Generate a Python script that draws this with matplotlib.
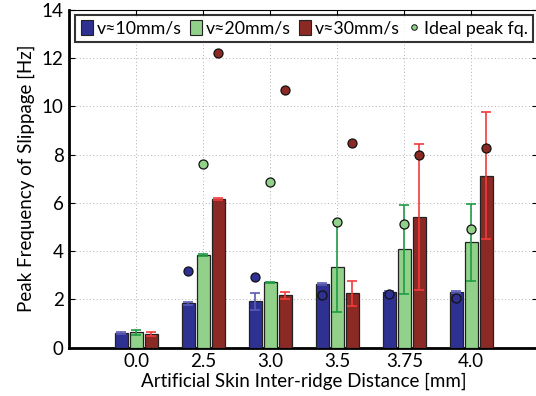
import matplotlib
matplotlib.use("Agg")
import matplotlib.pyplot as plt
import numpy as np
from matplotlib.patches import Patch
from matplotlib.lines import Line2D

plt.rcParams['font.family'] = ['Lato', 'DejaVu Sans']

categories = ["0.0", "2.5", "3.0", "3.5", "3.75", "4.0"]
series_names = ["v≈10mm/s", "v≈20mm/s", "v≈30mm/s"]
v10 = [0.60, 1.84, 1.93, 2.64, 2.29, 2.31]
v20 = [0.64, 3.83, 2.71, 3.33, 4.07, 4.36]
v30 = [0.57, 6.17, 2.17, 2.25, 5.40, 7.12]
err10 = [0.03, 0.06, 0.35, 0.04, 0.05, 0.05]
err20 = [0.11, 0.03, 0.03, 1.86, 1.84, 1.58]
err30 = [0.08, 0.04, 0.15, 0.52, 3.03, 2.63]
ideal10 = [np.nan, 3.16, 2.93, 2.18, 2.24, 2.06]
ideal20 = [np.nan, 7.62, 6.85, 5.20, 5.13, 4.92]
ideal30 = [np.nan, 12.2, 10.66, 8.48, 7.99, 8.26]

bar_colors = ["#2e3192", "#92d18a", "#8b2a24"]
err_colors = ["#5a5ab8", "#1f9a45", "#f03c3c"]

fig = plt.figure(figsize=(5.36, 3.96), dpi=100)
ax = fig.add_axes([69.3/536, (396-347.7)/396, 469/536, (347.7-9.6)/396])

x = np.arange(1, len(categories)+1)
offsets = [-0.225, 0.0, 0.225]
width = 0.19
vals = [v10, v20, v30]
errs = [err10, err20, err30]
ideals = [ideal10, ideal20, ideal30]
for i in range(3):
    ax.bar(x + offsets[i], vals[i], width=width, color=bar_colors[i],
           edgecolor="#222222", linewidth=0.9, zorder=3)
    ax.errorbar(x + offsets[i], vals[i], yerr=errs[i], fmt='none',
                ecolor=err_colors[i], elinewidth=1.2, capsize=3.5, capthick=1.2, zorder=4)
    ax.plot(x + offsets[i], ideals[i], 'o', markersize=6.5, markerfacecolor=bar_colors[i],
            markeredgecolor="#111111", markeredgewidth=0.9, zorder=5, linestyle='none')

ax.set_xlim(0, 7)
ax.set_ylim(0, 14)
ax.set_xticks(x)
ax.set_xticklabels(categories)
ax.set_yticks(np.arange(0, 15, 2))
ax.tick_params(axis='both', direction='in', labelsize=13.5, length=4, top=True, right=True, pad=4)
ax.grid(True, linestyle=(0, (1, 2.5)), color="#b0b0b0", linewidth=0.7, zorder=0)
ax.set_axisbelow(True)
for s in ['left', 'bottom']:
    ax.spines[s].set_linewidth(2.0)
for s in ['top', 'right']:
    ax.spines[s].set_linewidth(0.8)
ax.set_xlabel("Artificial Skin Inter-ridge Distance [mm]", fontsize=13.5, labelpad=2)
ax.set_ylabel("Peak Frequency of Slippage [Hz]", fontsize=13.5, labelpad=5)

handles = [Patch(facecolor=bar_colors[i], edgecolor="#222222", linewidth=0.8) for i in range(3)]
handles.append(Line2D([], [], marker='o', linestyle='none', markersize=4.0,
                      markerfacecolor=bar_colors[1], markeredgecolor="#111111", markeredgewidth=0.7))
labels = series_names + ["Ideal peak fq."]
leg = ax.legend(handles, labels, loc='upper left', bbox_to_anchor=(0.0128, 0.985), ncol=4,
                fontsize=12.8, frameon=True, fancybox=False, edgecolor='black',
                handlelength=0.7, handleheight=0.95, handletextpad=0.2, columnspacing=0.45,
                borderpad=0.3, borderaxespad=0)
leg.get_frame().set_linewidth(1.5)
leg.set_zorder(10)

fig.savefig("out.png", dpi=100)
